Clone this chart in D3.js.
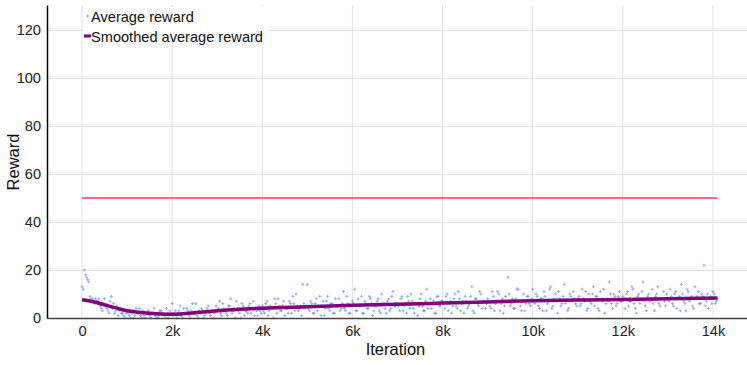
<!DOCTYPE html>
<html>
<head>
<meta charset="utf-8">
<script src="https://cdn.jsdelivr.net/npm/d3@7"></script>
<style>
body { margin: 0; background: #fff; }
text { font-family: "Liberation Sans", Arial, sans-serif; }
</style>
</head>
<body>
<div id="chart"></div>
<script>
// average reward, one value every 50 iterations (0 .. 14100)
var rewardStep = 50;
var avgReward = [
	13,20,17,15,8,7,8,7,5,3,8,4,2,9,6,3,1,4,2,0,
	3,1,2,0,4,2,1,3,0,2,1,2,4,0,1,3,2,0,2,3,
	6,2,0,3,1,4,2,3,0,6,2,1,3,4,0,2,5,1,3,2,
	3,7,1,4,2,5,8,3,0,4,2,6,1,3,5,2,7,4,1,3,
	5,2,7,3,4,0,6,8,3,5,1,4,7,2,6,10,3,5,14,4,
	14,3,6,2,8,5,1,7,4,9,3,6,2,5,8,4,11,3,6,2,
	7,12,3,5,9,2,6,4,8,1,5,7,3,10,6,2,8,4,11,5,
	6,3,9,5,2,7,10,4,6,1,8,5,3,12,6,4,7,2,9,5,
	7,4,10,6,2,8,5,11,3,7,9,4,6,13,2,8,5,10,7,4,
	8,5,11,3,7,10,6,2,9,17,5,8,4,12,7,3,10,6,9,5,
	12,6,9,4,8,11,3,7,13,5,10,2,8,6,14,7,4,9,11,6,
	8,5,12,7,3,10,6,13,9,4,11,7,2,8,15,6,10,5,9,7,
	9,4,11,7,13,6,2,10,8,15,5,9,7,12,3,10,6,8,11,5,
	8,12,6,10,4,9,14,7,3,11,8,5,13,9,6,10,22,7,4,9,
	11,6,8
];
// the in-between runs (25, 75, 125 ... 14075)
var avgRewardMid = [
	12,18,16,9,8,6,7,8,4,6,5,3,7,4,2,5,3,2,1,2,
	2,0,3,1,2,4,0,1,2,3,0,2,1,0,3,2,1,4,0,2,
	1,3,2,5,0,2,4,1,3,2,6,0,2,3,1,4,2,3,0,5,
	4,2,6,3,1,5,2,4,7,3,0,5,3,2,6,4,1,3,5,2,
	3,6,1,5,4,8,2,5,3,7,4,2,6,9,3,5,4,1,6,5,
	4,7,2,6,3,9,5,1,7,4,6,2,8,5,3,6,4,9,2,5,
	6,3,8,5,2,7,4,9,6,3,5,8,2,6,4,7,3,9,5,6,
	5,8,3,6,9,4,7,2,6,5,10,3,7,4,8,6,2,9,5,7,
	6,9,3,7,5,10,4,8,6,2,7,5,9,3,8,6,11,4,7,6,
	7,4,9,6,11,3,8,5,7,10,6,4,8,12,5,7,3,9,6,8,
	7,10,5,8,3,9,6,12,4,8,7,11,5,9,6,3,10,7,8,5,
	9,6,8,11,4,7,10,5,9,3,8,12,6,7,10,4,9,6,11,7,
	8,10,5,7,12,4,9,6,11,7,3,10,8,6,9,13,5,8,7,10,
	7,9,5,11,8,3,10,6,12,7,9,4,8,11,6,9,5,10,8,6,
	10,7
];

var smoothIter = [0,250,500,750,1000,1250,1500,1750,2000,2500,3000,3500,4000,5000,6000,7000,8000,9000,10000,11000,12000,13000,14100];
var smoothVal  = [7.6,6.8,5.5,4.2,3.0,2.4,2.0,1.7,1.6,2.2,3.0,3.6,4.1,4.7,5.3,5.7,6.2,6.7,7.2,7.5,7.7,8.0,8.3];

var targetReward = 50;
var targetRange = [0, 14100];

var xTicks = [0,2000,4000,6000,8000,10000,12000,14000];
var xTickLabels = ["0","2k","4k","6k","8k","10k","12k","14k"];
var yTicks = [0,20,40,60,80,100,120];

var width = 747, height = 365;
var margin = {top: 5, right: 0, bottom: 47, left: 47};
var fontSize = 14.6;

var svg = d3.select("#chart").append("svg")
	.attr("width", width)
	.attr("height", height);

var x = d3.scaleLinear()
	.domain([-777, 14755])
	.range([margin.left, width - margin.right]);

var y = d3.scaleLinear()
	.domain([0, 130.4])
	.range([height - margin.bottom, margin.top]);

// grid
svg.append("g").selectAll("line")
	.data(xTicks).enter().append("line")
	.attr("x1", function(d) { return x(d); })
	.attr("x2", function(d) { return x(d); })
	.attr("y1", margin.top)
	.attr("y2", height - margin.bottom)
	.attr("stroke", "#e2e2e2")
	.attr("stroke-width", 1);

svg.append("g").selectAll("line")
	.data(yTicks).enter().append("line")
	.attr("x1", margin.left)
	.attr("x2", width - margin.right)
	.attr("y1", function(d) { return Math.round(y(d)) + 0.5; })
	.attr("y2", function(d) { return Math.round(y(d)) + 0.5; })
	.attr("stroke", "#e2e2e2")
	.attr("stroke-width", 1);

// target line
svg.append("line")
	.attr("x1", x(targetRange[0]))
	.attr("x2", x(targetRange[1]))
	.attr("y1", y(targetReward))
	.attr("y2", y(targetReward))
	.attr("stroke", "#ea6078")
	.attr("stroke-width", 2)
	.attr("opacity", 0.9);

// scatter of average reward as small crosses
var pts = avgReward.map(function(v, i) { return {it: i * rewardStep, r: v}; })
	.concat(avgRewardMid.map(function(v, i) { return {it: i * rewardStep + rewardStep / 2, r: v}; }));

svg.append("g")
	.selectAll("path")
	.data(pts).enter().append("path")
	.attr("d", function(d) {
		var cx = x(d.it), cy = y(d.r);
		return "M" + (cx - 1.5) + "," + cy + "H" + (cx + 1.5) + "M" + cx + "," + (cy - 1.5) + "V" + (cy + 1.5);
	})
	.attr("stroke", "#5478e6")
	.attr("stroke-width", 1)
	.attr("opacity", 0.6);

// smoothed line
var smoothData = smoothIter.map(function(d, i) { return [d, smoothVal[i]]; });
var line = d3.line()
	.x(function(d) { return x(d[0]); })
	.y(function(d) { return y(d[1]); })
	.curve(d3.curveMonotoneX);

svg.append("path")
	.datum(smoothData)
	.attr("d", line)
	.attr("fill", "none")
	.attr("stroke", "#800080")
	.attr("stroke-width", 3.5)
	.attr("stroke-linecap", "butt");

// axes
var xAxis = svg.append("g")
	.attr("transform", "translate(0," + (height - margin.bottom) + ")")
	.call(d3.axisBottom(x).tickValues(xTicks).tickFormat(function(d, i) { return xTickLabels[i]; }).tickSize(0).tickPadding(8));
xAxis.select(".domain").attr("stroke", "#444").attr("stroke-width", 1.5);
xAxis.selectAll("text").attr("font-size", fontSize).attr("fill", "#222")
	.style("font-family", "'Liberation Sans', Arial, sans-serif");

var yAxis = svg.append("g")
	.attr("transform", "translate(" + margin.left + ",0)")
	.call(d3.axisLeft(y).tickValues(yTicks).tickSize(0).tickPadding(6));
yAxis.select(".domain").attr("stroke", "#000").attr("stroke-width", 1.5);
yAxis.selectAll("text").attr("font-size", fontSize).attr("fill", "#222")
	.style("font-family", "'Liberation Sans', Arial, sans-serif");

// axis titles
svg.append("text")
	.attr("x", x(7000) - 2)
	.attr("y", 355)
	.attr("text-anchor", "middle")
	.attr("font-size", 16.5)
	.attr("fill", "#111")
	.text("Iteration");

svg.append("text")
	.attr("transform", "translate(19," + 162 + ") rotate(-90)")
	.attr("text-anchor", "middle")
	.attr("font-size", 16.5)
	.attr("fill", "#111")
	.text("Reward");

// legend
var legend = svg.append("g");
legend.append("rect")
	.attr("x", 83).attr("y", 7)
	.attr("width", 184).attr("height", 40)
	.attr("fill", "#fff");

legend.append("path")
	.attr("d", "M86,16H89M87.5,14.5V17.5")
	.attr("stroke", "#5478e6")
	.attr("stroke-width", 1)
	.attr("opacity", 0.6);
legend.append("text")
	.attr("x", 91).attr("y", 22)
	.attr("font-size", fontSize)
	.attr("fill", "#111")
	.text("Average reward");

legend.append("line")
	.attr("x1", 84).attr("x2", 91)
	.attr("y1", 36).attr("y2", 36)
	.attr("stroke", "#800080")
	.attr("stroke-width", 3);
legend.append("text")
	.attr("x", 91).attr("y", 42)
	.attr("font-size", fontSize)
	.attr("fill", "#111")
	.text("Smoothed average reward");
</script>
</body>
</html>
